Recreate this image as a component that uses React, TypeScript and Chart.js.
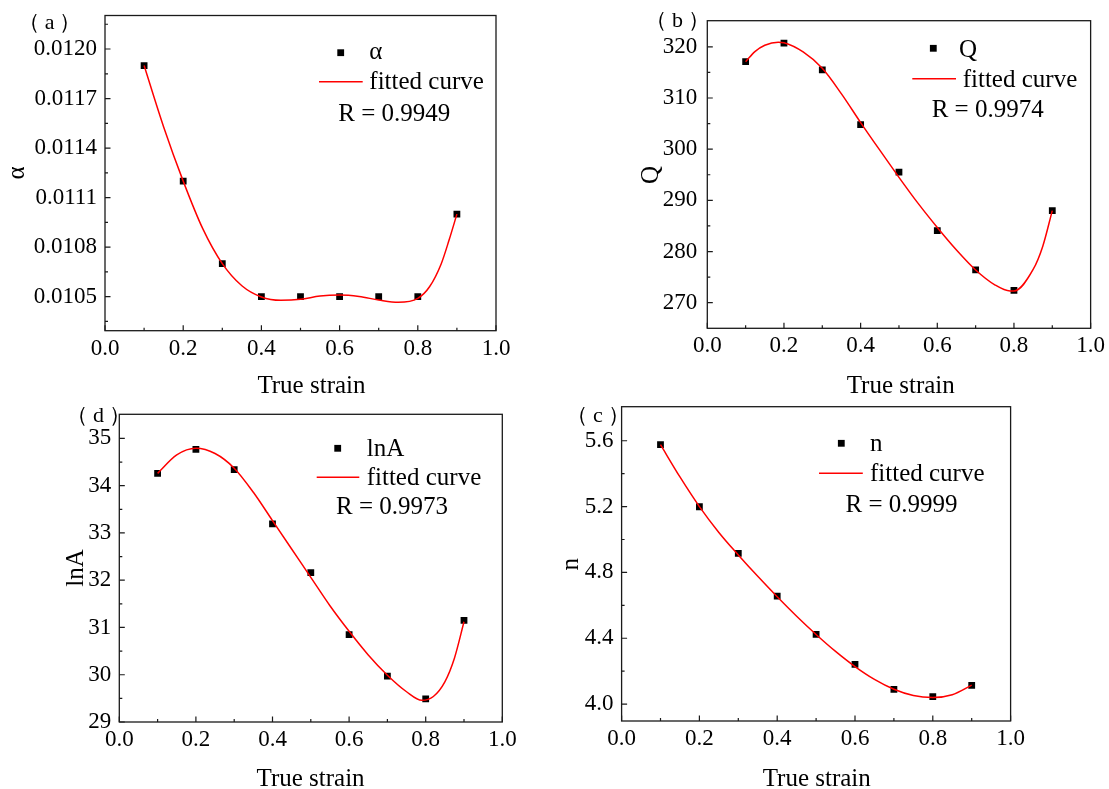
import React, { useEffect, useRef } from 'react';
import { Chart, registerables } from 'chart.js';

Chart.register(...registerables);

// ---------------- data ----------------
const strain = [0.1, 0.2, 0.3, 0.4, 0.5, 0.6, 0.7, 0.8, 0.9];

const alphaValues = [0.0119, 0.0112, 0.0107, 0.0105, 0.0105, 0.0105, 0.0105, 0.0105, 0.011];
const qValues = [317.1, 320.7, 315.5, 304.8, 295.5, 284.1, 276.4, 272.4, 288.0];
const lnAValues = [34.26, 34.77, 34.34, 33.19, 32.16, 30.85, 29.97, 29.49, 31.15];
const nValues = [5.576, 5.199, 4.916, 4.656, 4.423, 4.241, 4.089, 4.045, 4.113];

// fitted curves
const alphaFitX = [0.1, 0.15, 0.2, 0.25, 0.3, 0.35, 0.4, 0.45, 0.5, 0.55, 0.6, 0.65, 0.7, 0.75, 0.8, 0.83, 0.86, 0.88, 0.9];
const alphaFitY = [0.0119, 0.011528, 0.0112, 0.010912, 0.0107, 0.010566, 0.010498, 0.010478, 0.010484, 0.010504, 0.01051, 0.010501, 0.01048, 0.010466, 0.01049, 0.01056, 0.0107, 0.010843, 0.011];

const qFitX = [0.1, 0.125, 0.15, 0.185, 0.2, 0.25, 0.3, 0.35, 0.4, 0.45, 0.5, 0.55, 0.6, 0.65, 0.7, 0.75, 0.79, 0.8, 0.85, 0.875, 0.9];
const qFitY = [317.1, 319.1, 320.3, 320.9, 320.8, 319.0, 315.8, 310.8, 305.2, 299.8, 294.5, 289.4, 284.7, 280.3, 276.4, 273.5, 272.3, 272.3, 276.5, 281.0, 288.0];

const lnAFitX = [0.1, 0.15, 0.2, 0.25, 0.3, 0.35, 0.4, 0.45, 0.5, 0.55, 0.6, 0.65, 0.7, 0.75, 0.79, 0.82, 0.85, 0.875, 0.9];
const lnAFitY = [34.26, 34.65, 34.79, 34.68, 34.37, 33.86, 33.26, 32.66, 32.06, 31.46, 30.92, 30.42, 29.99, 29.64, 29.46, 29.54, 29.85, 30.35, 31.12];

const nFitX = [0.1, 0.15, 0.2, 0.25, 0.3, 0.35, 0.4, 0.45, 0.5, 0.55, 0.6, 0.65, 0.7, 0.75, 0.8, 0.85, 0.9];
const nFitY = [5.576, 5.38, 5.2, 5.043, 4.906, 4.776, 4.652, 4.534, 4.423, 4.32, 4.228, 4.15, 4.09, 4.052, 4.04, 4.057, 4.115];

// ticks
const xMajorTicks = [0, 0.2, 0.4, 0.6, 0.8, 1.0];
const xMinorTicks = [0.1, 0.3, 0.5, 0.7, 0.9];
const alphaTicks = [0.0105, 0.0108, 0.0111, 0.0114, 0.0117, 0.012];
const alphaMinor = [0.01035, 0.01065, 0.01095, 0.01125, 0.01155, 0.01185, 0.01215];
const qTicks = [270, 280, 290, 300, 310, 320];
const qMinor = [275, 285, 295, 305, 315];
const lnATicks = [29, 30, 31, 32, 33, 34, 35];
const lnAMinor = [29.5, 30.5, 31.5, 32.5, 33.5, 34.5];
const nTicks = [4.0, 4.4, 4.8, 5.2, 5.6];
const nMinor = [4.2, 4.6, 5.0, 5.4];

const xTitle = 'True strain';
const fitLabel = 'fitted curve';

// ---------------- layout ----------------
const FONT = '"Liberation Serif", "Times New Roman", serif';
const TICK_SIZE = 23;
const TEXT_SIZE = 25;

Chart.defaults.font.family = FONT;
Chart.defaults.color = '#000';

type Panel = {
  id: string;
  label: string;
  name: string;
  yTitle: string;
  rText: string;
  xs: number[];
  ys: number[];
  fitX: number[];
  fitY: number[];
  yMin: number;
  yMax: number;
  yTicks: number[];
  yMinor: number[];
  decimals: number;
  canvas: { left: number; top: number; width: number; height: number };
  area: { l: number; t: number; r: number; b: number };
  yPad: number;
  labelPos: [number, number];
  yTitlePos: [number, number];
  xTitlePos: [number, number];
  marker: [number, number];
  nameAt: [number, number];
  line: [number, number, number];
  fitAt: [number, number];
  rAt: [number, number];
};

const panels: Panel[] = [
  {
    id: 'a', label: '（a）', name: 'α', yTitle: 'α', rText: 'R = 0.9949',
    xs: strain, ys: alphaValues, fitX: alphaFitX, fitY: alphaFitY,
    yMin: 0.010294, yMax: 0.012203, yTicks: alphaTicks, yMinor: alphaMinor, decimals: 4,
    canvas: { left: 0, top: -30, width: 554, height: 430 },
    area: { l: 105, t: 15.5, r: 496, b: 330.7 }, yPad: 8,
    labelPos: [31.7, 29], yTitlePos: [18.3, 173], xTitlePos: [311.7, 392.5],
    marker: [340.7, 52.7], nameAt: [369.3, 59.3], line: [319, 362.7, 81.7], fitAt: [369.3, 89], rAt: [338.3, 120.5],
  },
  {
    id: 'b', label: '（b）', name: 'Q', yTitle: 'Q', rText: 'R = 0.9974',
    xs: strain, ys: qValues, fitX: qFitX, fitY: qFitY,
    yMin: 265, yMax: 325.1, yTicks: qTicks, yMinor: qMinor, decimals: 0,
    canvas: { left: 554, top: -30, width: 555, height: 430 },
    area: { l: 707.3, t: 20.7, r: 1093.8, b: 328.3 }, yPad: 10,
    labelPos: [659, 26.5], yTitlePos: [651.5, 174.5], xTitlePos: [901, 392.5],
    marker: [933.3, 48.3], nameAt: [960, 57], line: [912.3, 956, 78.7], fitAt: [962.7, 87], rAt: [931.7, 116.5],
  },
  {
    id: 'd', label: '（d）', name: 'lnA', yTitle: 'lnA', rText: 'R = 0.9973',
    xs: strain, ys: lnAValues, fitX: lnAFitX, fitY: lnAFitY,
    yMin: 29, yMax: 35.51, yTicks: lnATicks, yMinor: lnAMinor, decimals: 0,
    canvas: { left: 0, top: 360, width: 554, height: 429 },
    area: { l: 119.3, t: 414.3, r: 502.3, b: 722 }, yPad: 8,
    labelPos: [80, 422], yTitlePos: [74, 568], xTitlePos: [310.8, 786],
    marker: [337.7, 448.3], nameAt: [366.7, 455.5], line: [316.7, 359.3, 477.3], fitAt: [366.7, 485], rAt: [336, 514],
  },
  {
    id: 'c', label: '（c）', name: 'n', yTitle: 'n', rText: 'R = 0.9999',
    xs: strain, ys: nValues, fitX: nFitX, fitY: nFitY,
    yMin: 3.897, yMax: 5.807, yTicks: nTicks, yMinor: nMinor, decimals: 1,
    canvas: { left: 554, top: 360, width: 555, height: 429 },
    area: { l: 621.6, t: 406.7, r: 1010.6, b: 721 }, yPad: 8,
    labelPos: [580, 422], yTitlePos: [572, 564], xTitlePos: [817, 786],
    marker: [841.3, 443.3], nameAt: [870, 450.7], line: [819, 862.8, 473.3], fitAt: [870, 480.5], rAt: [845.6, 511.5],
  },
];

function textAtInk(ctx: CanvasRenderingContext2D, text: string, inkLeft: number, baseline: number) {
  ctx.textAlign = 'left';
  ctx.textBaseline = 'alphabetic';
  const m = ctx.measureText(text);
  ctx.fillText(text, inkLeft + m.actualBoundingBoxLeft, baseline);
}

function makePlugin(p: Panel) {
  return {
    id: 'frame_' + p.id,
    afterDraw(chart: any) {
      const ctx: CanvasRenderingContext2D = chart.ctx;
      const a = chart.chartArea;
      const sx = chart.scales.x;
      const sy = chart.scales.y;
      ctx.save();
      // frame
      ctx.strokeStyle = '#1a1a1a';
      ctx.lineWidth = 1.3;
      ctx.strokeRect(a.left, a.top, a.right - a.left, a.bottom - a.top);
      // inward ticks
      ctx.lineWidth = 1.2;
      ctx.beginPath();
      p.yTicks.forEach((v) => {
        const y = sy.getPixelForValue(v);
        ctx.moveTo(a.left, y);
        ctx.lineTo(a.left + 5.5, y);
      });
      p.yMinor.forEach((v) => {
        const y = sy.getPixelForValue(v);
        ctx.moveTo(a.left, y);
        ctx.lineTo(a.left + 3, y);
      });
      xMajorTicks.forEach((v) => {
        const x = sx.getPixelForValue(v);
        ctx.moveTo(x, a.bottom);
        ctx.lineTo(x, a.bottom - 5.5);
      });
      xMinorTicks.forEach((v) => {
        const x = sx.getPixelForValue(v);
        ctx.moveTo(x, a.bottom);
        ctx.lineTo(x, a.bottom - 3);
      });
      ctx.stroke();

      // texts in page coordinates
      ctx.translate(-p.canvas.left, -p.canvas.top);
      ctx.fillStyle = '#000';

      // panel label
      ctx.font = `22px ${FONT}`;
      (ctx as any).letterSpacing = '5px';
      textAtInk(ctx, p.label, p.labelPos[0], p.labelPos[1]);
      (ctx as any).letterSpacing = '0px';

      ctx.font = `${TEXT_SIZE}px ${FONT}`;
      // x title
      {
        const m = ctx.measureText(xTitle);
        const w = m.actualBoundingBoxLeft + m.actualBoundingBoxRight;
        textAtInk(ctx, xTitle, p.xTitlePos[0] - w / 2, p.xTitlePos[1]);
      }
      // y title (rotated)
      {
        ctx.save();
        ctx.translate(p.yTitlePos[0], p.yTitlePos[1]);
        ctx.rotate(-Math.PI / 2);
        const m = ctx.measureText(p.yTitle);
        const w = m.actualBoundingBoxLeft + m.actualBoundingBoxRight;
        const yb = (m.actualBoundingBoxAscent - m.actualBoundingBoxDescent) / 2;
        textAtInk(ctx, p.yTitle, -w / 2, yb);
        ctx.restore();
      }
      // legend
      ctx.fillStyle = '#000';
      ctx.fillRect(p.marker[0] - 3.4, p.marker[1] - 3.4, 6.8, 6.8);
      textAtInk(ctx, p.name, p.nameAt[0], p.nameAt[1]);
      ctx.strokeStyle = '#ff0000';
      ctx.lineWidth = 1.5;
      ctx.beginPath();
      ctx.moveTo(p.line[0], p.line[2]);
      ctx.lineTo(p.line[1], p.line[2]);
      ctx.stroke();
      textAtInk(ctx, fitLabel, p.fitAt[0], p.fitAt[1]);
      textAtInk(ctx, p.rText, p.rAt[0], p.rAt[1]);
      ctx.restore();
    },
  };
}

function PanelChart({ p }: { p: Panel }) {
  const ref = useRef<HTMLCanvasElement | null>(null);
  useEffect(() => {
    const canvas = ref.current;
    if (!canvas) return;
    const c = p.canvas;
    const yWidth = p.area.l - c.left;
    const xHeight = c.top + c.height - p.area.b;
    const tickFont = { family: FONT, size: TICK_SIZE };
    const chart = new Chart(canvas, {
      type: 'scatter',
      data: {
        datasets: [
          {
            label: fitLabel,
            data: p.fitX.map((x, i) => ({ x, y: p.fitY[i] })),
            showLine: true,
            borderColor: '#ff0000',
            backgroundColor: '#ff0000',
            borderWidth: 1.5,
            pointRadius: 0,
            cubicInterpolationMode: 'monotone',
            fill: false,
          } as any,
          {
            label: p.name,
            data: p.xs.map((x, i) => ({ x, y: p.ys[i] })),
            showLine: false,
            pointStyle: 'rect',
            pointRadius: 4.8,
            backgroundColor: '#000',
            borderColor: '#000',
            borderWidth: 0,
          } as any,
        ],
      },
      options: {
        responsive: false,
        animation: false,
        devicePixelRatio: 1,
        events: [],
        layout: {
          padding: {
            left: 0,
            top: p.area.t - c.top,
            right: c.left + c.width - p.area.r,
            bottom: 0,
          },
        },
        plugins: {
          legend: { display: false },
          tooltip: { enabled: false },
        },
        scales: {
          x: {
            type: 'linear',
            position: 'bottom',
            min: 0,
            max: 1,
            grid: { display: false, drawTicks: false },
            border: { display: false },
            afterBuildTicks: (s: any) => {
              s.ticks = xMajorTicks.map((v) => ({ value: v }));
            },
            afterFit: (s: any) => {
              s.height = xHeight;
            },
            ticks: {
              autoSkip: false,
              maxRotation: 0,
              minRotation: 0,
              padding: 4,
              color: '#000',
              font: tickFont,
              callback: (v: any) => Number(v).toFixed(1),
            },
          },
          y: {
            type: 'linear',
            position: 'left',
            min: p.yMin,
            max: p.yMax,
            grid: { display: false, drawTicks: false },
            border: { display: false },
            afterBuildTicks: (s: any) => {
              s.ticks = p.yTicks.map((v) => ({ value: v }));
            },
            afterFit: (s: any) => {
              s.width = yWidth;
            },
            ticks: {
              autoSkip: false,
              padding: p.yPad,
              color: '#000',
              font: tickFont,
              callback: (v: any) => Number(v).toFixed(p.decimals),
            },
          },
        },
      } as any,
      plugins: [makePlugin(p)],
    });
    return () => chart.destroy();
  }, [p]);
  const c = p.canvas;
  return (
    <canvas
      ref={ref}
      width={c.width}
      height={c.height}
      style={{ position: 'absolute', left: c.left, top: c.top, width: c.width, height: c.height }}
    />
  );
}

export default function App() {
  return (
    <div
      style={{
        position: 'absolute',
        left: 0,
        top: 0,
        width: 1109,
        height: 789,
        overflow: 'hidden',
        background: '#fff',
      }}
    >
      {panels.map((p) => (
        <PanelChart key={p.id} p={p} />
      ))}
    </div>
  );
}
